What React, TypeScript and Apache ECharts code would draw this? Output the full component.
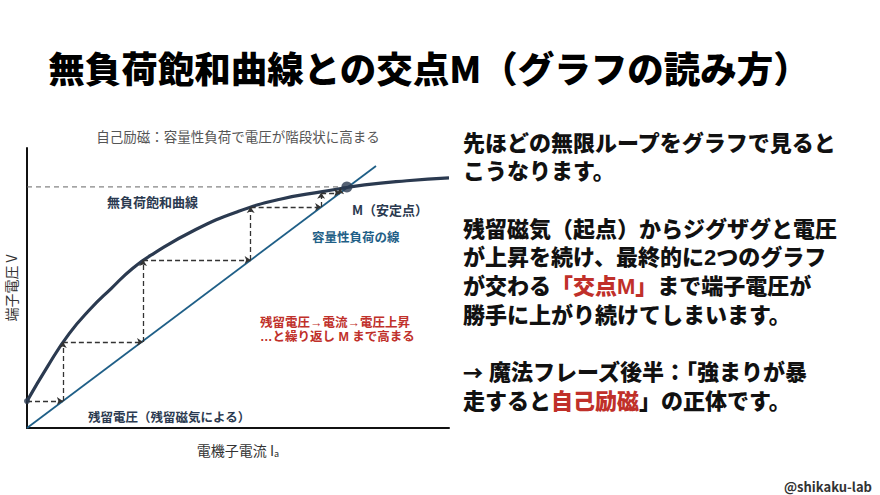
import React, { useEffect, useRef } from "react";
import * as echarts from "echarts";

// ---- data (axis units: 0..100 on both axes) ----
const curveX = [0, 5, 10, 15, 20, 25, 30, 40, 50, 60, 70, 80, 90, 100];
const curveY = [9.6, 22.3, 33.7, 42.5, 49.9, 57, 62.3, 70.9, 77.3, 81.7, 84.4, 86.8, 88.3, 89.3];
const loadX = [0, 82.7];
const loadY = [0, 93.6];
const stepX = [0, 8.5, 27.5, 53, 69.7, 74.2];
const stepY = [9.6, 30.7, 60, 78.9, 84, 85.6];
const pointM = [75.8, 86.1];

const pageTitle = "無負荷飽和曲線との交点M（グラフの読み方）";
const chartTitle = "自己励磁：容量性負荷で電圧が階段状に高まる";
const xName = "電機子電流 I";
const yName = "端子電圧 V";
const bodyLines = [
  "{n|先ほどの無限ループをグラフで見ると}",
  "{n|こうなります。}",
  "",
  "{n|残留磁気（起点）からジグザグと電圧}",
  "{n|が上昇を続け、最終的に2つのグラフ}",
  "{n|が交わる}{r|「交点M」}{n|まで端子電圧が}",
  "{n|勝手に上がり続けてしまいます。}",
  "",
  "{a|→}{n| 魔法フレーズ後半：「強まりが暴}",
  "{n|走すると}{r|自己励磁}{n|」の正体です。}",
];

const FONT = '"Noto Sans CJK JP", "Noto Sans", sans-serif';
const TIGHT = '"Liberation Sans", "Noto Sans CJK JP", sans-serif';
const NAVY = "#2b3a50";
const TEAL = "#1f5f87";
const RED = "#c0302a";

export default function App() {
  const ref = useRef<HTMLDivElement>(null);
  useEffect(() => {
    if (!ref.current) return;
    const chart = echarts.init(ref.current, undefined, { renderer: "svg" });

    const curveData = curveX.map((x, i) => [x, curveY[i]]);
    const loadData = loadX.map((x, i) => [x, loadY[i]]);
    const steps: any[] = [];
    for (let i = 0; i < stepX.length - 1; i++) {
      steps.push({ coords: [[stepX[i], stepY[i]], [stepX[i + 1], stepY[i]]] });
      steps.push({ coords: [[stepX[i + 1], stepY[i]], [stepX[i + 1], stepY[i + 1]]] });
    }

    const lineTop = 143;
    const lineGap = 28.7;
    const bodyGraphics = bodyLines
      .map((t, i) => ({ t, i }))
      .filter((o) => o.t !== "")
      .map(({ t, i }) => ({
        type: "text",
        x: 463,
        y: lineTop + i * lineGap,
        style: {
          text: t,
          textVerticalAlign: "middle",
          verticalAlign: "middle",
          rich: {
            n: { fontSize: 22, lineHeight: 24, fontWeight: 900, fill: "#111", color: "#111", fontFamily: TIGHT },
            r: { fontSize: 22, lineHeight: 24, fontWeight: 900, fill: RED, color: RED, fontFamily: TIGHT },
            a: { fontSize: 20, lineHeight: 24, fontWeight: 900, fill: "#111", color: "#111", fontFamily: FONT },
          },
        },
      }));

    const txt = (x: number, y: number, text: string, size: number, color: string, weight: any = 700, align = "left", family = FONT) => ({
      type: "text",
      x,
      y,
      style: {
        text,
        fontSize: size,
        fontWeight: weight,
        fontFamily: family,
        fill: color,
        textAlign: align,
        align,
        lineHeight: Math.round(size * 1.05),
        textVerticalAlign: "middle",
        verticalAlign: "middle",
      },
    });

    chart.setOption({
      animation: false,
      backgroundColor: "#ffffff",
      grid: { left: 27, top: 148, width: 422, height: 280 },
      xAxis: {
        type: "value",
        min: 0,
        max: 100,
        axisLine: { show: true, lineStyle: { color: "#111", width: 2 } },
        axisTick: { show: false },
        axisLabel: { show: false },
        splitLine: { show: false },
        name: "{t|" + xName + "}{s|a}",
        nameLocation: "middle",
        nameGap: 13,
        nameTextStyle: {
          rich: {
            t: { fontSize: 14, color: "#333", fontFamily: FONT },
            s: { fontSize: 9, color: "#333", fontFamily: FONT, padding: [8, 0, 0, 0] },
          },
        },
      },
      yAxis: {
        type: "value",
        min: 0,
        max: 100,
        axisLine: { show: true, lineStyle: { color: "#111", width: 2 } },
        axisTick: { show: false },
        axisLabel: { show: false },
        splitLine: { show: false },
        name: yName,
        nameLocation: "middle",
        nameRotate: 90,
        nameGap: 9,
        nameTextStyle: { fontSize: 14, color: "#333", fontFamily: FONT },
      },
      series: [
        {
          type: "line",
          data: [[0, pointM[1]], pointM],
          showSymbol: false,
          lineStyle: { color: "#666", width: 1, type: [5, 4] },
          z: 1,
        },
        {
          type: "line",
          data: loadData,
          showSymbol: false,
          lineStyle: { color: TEAL, width: 1.8 },
          z: 2,
        },
        {
          type: "line",
          data: curveData,
          smooth: 0.5,
          showSymbol: false,
          lineStyle: { color: NAVY, width: 3.2 },
          z: 3,
        },
        {
          type: "lines",
          coordinateSystem: "cartesian2d",
          data: steps,
          symbol: ["none", "arrow"],
          symbolSize: 6,
          lineStyle: { color: "#333", width: 1.3, type: [5, 3], opacity: 1 },
          z: 4,
        },
        {
          type: "scatter",
          data: [pointM],
          symbolSize: 11,
          itemStyle: { color: NAVY },
          z: 5,
        },
        {
          type: "scatter",
          data: [[curveX[0], curveY[0]]],
          symbolSize: 6,
          itemStyle: { color: NAVY },
          z: 5,
        },
      ],
      graphic: [
        txt(429, 67, pageTitle, 36.5, "#000", 900, "center"),
        txt(238, 136, chartTitle, 13.5, "#555", 400, "center"),
        txt(107, 201, "無負荷飽和曲線", 13, NAVY),
        txt(352, 209, "M（安定点）", 13, NAVY),
        txt(312, 236, "容量性負荷の線", 12.5, TEAL),
        txt(260, 322.5, "残留電圧→電流→電圧上昇", 12.5, RED, 700, "left", TIGHT),
        txt(260, 337, "…と繰り返し M まで高まる", 12.5, RED, 700, "left", TIGHT),
        txt(88, 416, "残留電圧（残留磁気による）", 12.5, NAVY),
        txt(872, 486, "@shikaku-lab", 13, "#333", 700, "right"),
        ...bodyGraphics,
      ],
    });
    return () => chart.dispose();
  }, []);
  return (
    <div
      ref={ref}
      style={{ position: "fixed", left: 0, top: 0, width: 880, height: 495, background: "#fff" }}
    />
  );
}
